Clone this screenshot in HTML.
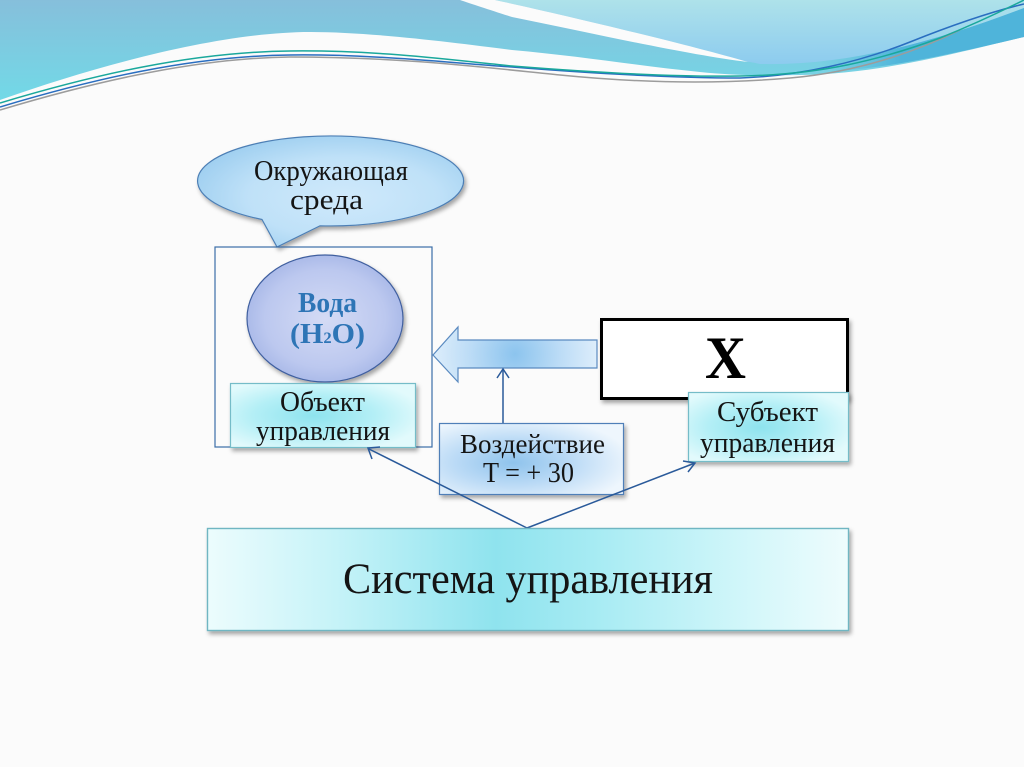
<!DOCTYPE html>
<html>
<head>
<meta charset="utf-8">
<style>
html,body{margin:0;padding:0;background:#fbfbfb;}
svg{display:block;}
text{font-family:"Liberation Serif","Noto Serif CJK SC",serif;fill:#141414;}
</style>
</head>
<body>
<svg width="1024" height="767" viewBox="0 0 1024 767" xmlns="http://www.w3.org/2000/svg">
<defs>
  <linearGradient id="gMain" x1="0" y1="0" x2="0" y2="100" gradientUnits="userSpaceOnUse">
    <stop offset="0" stop-color="#86bfdb"/>
    <stop offset="1" stop-color="#72d9e7"/>
  </linearGradient>
  <linearGradient id="gLight" x1="0" y1="0" x2="0" y2="66" gradientUnits="userSpaceOnUse">
    <stop offset="0" stop-color="#aee2ea"/>
    <stop offset="1" stop-color="#8ccbef"/>
  </linearGradient>
  <linearGradient id="gDark" x1="820" y1="0" x2="1024" y2="0" gradientUnits="userSpaceOnUse">
    <stop offset="0" stop-color="#5cc0dc" stop-opacity="0"/>
    <stop offset="0.4" stop-color="#4fb4da"/>
    <stop offset="1" stop-color="#4fb4da"/>
  </linearGradient>
  <radialGradient id="gBubble" cx="0.55" cy="0.55" r="0.6">
    <stop offset="0" stop-color="#cfe9fb"/>
    <stop offset="0.6" stop-color="#bfe1f8"/>
    <stop offset="1" stop-color="#9fcff0"/>
  </radialGradient>
  <radialGradient id="gWater" cx="0.5" cy="0.5" r="0.55">
    <stop offset="0" stop-color="#d4dbf5"/>
    <stop offset="0.7" stop-color="#bcc8ef"/>
    <stop offset="1" stop-color="#a4b5e6"/>
  </radialGradient>
  <radialGradient id="gCyan" cx="0.45" cy="0.5" r="0.6">
    <stop offset="0" stop-color="#8ee3ee"/>
    <stop offset="0.55" stop-color="#b4eff6"/>
    <stop offset="1" stop-color="#e2fafc"/>
  </radialGradient>
  <linearGradient id="gCyanWide" x1="0" y1="0" x2="1" y2="0">
    <stop offset="0" stop-color="#ecfcfd"/>
    <stop offset="0.2" stop-color="#c6f3f8"/>
    <stop offset="0.45" stop-color="#8fe3ee"/>
    <stop offset="0.6" stop-color="#a6ebf3"/>
    <stop offset="0.85" stop-color="#d4f7fa"/>
    <stop offset="1" stop-color="#eefcfd"/>
  </linearGradient>
  <radialGradient id="gBlue" cx="0.4" cy="0.55" r="0.65">
    <stop offset="0" stop-color="#8fc3ec"/>
    <stop offset="0.5" stop-color="#bcdbf6"/>
    <stop offset="1" stop-color="#eef6fd"/>
  </radialGradient>
  <radialGradient id="gArrow" cx="515" cy="354" r="90" gradientUnits="userSpaceOnUse">
    <stop offset="0" stop-color="#8cc4ee"/>
    <stop offset="0.5" stop-color="#bcdcf6"/>
    <stop offset="1" stop-color="#e4f1fc"/>
  </radialGradient>
  <filter id="sh" x="-10%" y="-10%" width="130%" height="140%">
    <feDropShadow dx="2" dy="3" stdDeviation="2" flood-color="#000" flood-opacity="0.35"/>
  </filter>
</defs>

<rect x="0" y="0" width="1024" height="767" fill="#fbfbfb"/>

<!-- header waves -->
<path d="M0,0 H1024 V37 C960,52 880,74 800,75 C760,76 730,75 700,72 C640,66 580,56 512,50 C450,42 340,28 283,33 C200,38 90,68 0,100 Z" fill="url(#gMain)"/>
<path d="M495,0 H1024 V8 C940,40 850,66 760,64 C755,63 751,62 748,62 C690,45 560,14 495,0 Z" fill="url(#gLight)"/>
<path d="M760,64 C850,66 940,40 1024,8 V37 C960,52 900,66 840,71 C810,70 785,68 760,64 Z" fill="url(#gDark)"/>
<path d="M460,0 L495,0 C560,14 690,45 748,62 C690,55 600,35 512,17 C490,10 472,4 460,0 Z" fill="#fbfbfb"/>
<path d="M0,110 C100,80 200,58 290,57 C400,57 480,67 560,75 C640,83 720,84 790,78 C860,72 920,50 960,30" fill="none" stroke="#9c9c9c" stroke-width="1.5"/>
<path d="M0,107 C90,80 190,56 290,55 C370,54 440,62 512,67 C600,74 680,78 740,78 C800,76 860,62 910,42 C950,26 990,12 1024,4" fill="none" stroke="#2a6ec0" stroke-width="1.5"/>
<path d="M0,103 C90,76 190,52 290,51 C380,50 450,60 512,66 C600,73 680,77 740,76 C820,75 880,60 940,38 C970,26 1000,12 1024,0" fill="none" stroke="#1aa89c" stroke-width="1.5"/>

<!-- speech bubble -->
<path d="M262,219.5 L277,247 L320,225.8 A133,45 0 1 0 262,219.5 Z" fill="url(#gBubble)" stroke="#4d7fb5" stroke-width="1.2" filter="url(#sh)"/>
<text x="254" y="180" font-size="28" textLength="154" lengthAdjust="spacingAndGlyphs">Окружающая</text>
<text x="290" y="209" font-size="28" textLength="73" lengthAdjust="spacingAndGlyphs">среда</text>

<!-- container -->
<rect x="215" y="247" width="217" height="200" fill="none" stroke="#3b6ea8" stroke-width="1.2"/>

<!-- water ellipse -->
<ellipse cx="325" cy="318.5" rx="78" ry="63.5" fill="url(#gWater)" stroke="#3f5f9f" stroke-width="1.2" filter="url(#sh)"/>
<text x="298" y="312" font-size="28" font-weight="bold" style="fill:#2e75b6" textLength="59" lengthAdjust="spacingAndGlyphs">Вода</text>
<text x="290" y="343" font-size="29" font-weight="bold" style="fill:#2e75b6" textLength="75" lengthAdjust="spacingAndGlyphs">(H<tspan font-size="16">2</tspan>O)</text>

<!-- Объект управления -->
<rect x="230.5" y="383.5" width="185" height="64" fill="url(#gCyan)" stroke="#74bcc8" stroke-width="1.2" filter="url(#sh)"/>
<text x="280" y="411" font-size="28" textLength="85" lengthAdjust="spacingAndGlyphs">Объект</text>
<text x="256" y="440" font-size="28" textLength="134" lengthAdjust="spacingAndGlyphs">управления</text>

<!-- big arrow -->
<polygon points="433,355 458,327 458,340 597,340 597,368 458,368 458,382" fill="url(#gArrow)" stroke="#5a8ac0" stroke-width="1.2"/>

<!-- X box -->
<rect x="601.5" y="319.5" width="246" height="79" fill="#ffffff" stroke="#000" stroke-width="3" filter="url(#sh)"/>
<text x="705" y="378" font-size="60" font-weight="bold" style="fill:#000" textLength="41" lengthAdjust="spacingAndGlyphs">X</text>

<!-- small vertical arrow -->
<line x1="503" y1="423" x2="503" y2="369" stroke="#2a5a9a" stroke-width="1.5"/>
<polyline points="497,378 503,369 509,378" fill="none" stroke="#2a5a9a" stroke-width="1.5"/>

<!-- Воздействие -->
<rect x="439.5" y="423.5" width="184" height="71" fill="url(#gBlue)" stroke="#4f7fb8" stroke-width="1.2" filter="url(#sh)"/>
<text x="460" y="453" font-size="27" textLength="145" lengthAdjust="spacingAndGlyphs">Воздействие</text>
<text x="483" y="482" font-size="29" textLength="91" lengthAdjust="spacingAndGlyphs">T = + 30</text>

<!-- Субъект управления -->
<rect x="688.5" y="392.5" width="160" height="69" fill="url(#gCyan)" stroke="#74bcc8" stroke-width="1.2" filter="url(#sh)"/>
<text x="717" y="421" font-size="28" textLength="101" lengthAdjust="spacingAndGlyphs">Субъект</text>
<text x="700" y="452" font-size="28" textLength="135" lengthAdjust="spacingAndGlyphs">управления</text>

<!-- connectors -->
<line x1="527" y1="528" x2="369" y2="449" stroke="#2a5a9a" stroke-width="1.5"/>
<polyline points="372,459 368,448 380,447" fill="none" stroke="#2a5a9a" stroke-width="1.5"/>
<line x1="527" y1="528" x2="695" y2="463" stroke="#2a5a9a" stroke-width="1.5"/>
<polyline points="683,461 695,463 688,472" fill="none" stroke="#2a5a9a" stroke-width="1.5"/>

<!-- Система управления -->
<rect x="207.5" y="528.5" width="641" height="102" fill="url(#gCyanWide)" stroke="#6fb6c2" stroke-width="1.4" filter="url(#sh)"/>
<text x="343" y="593" font-size="43" textLength="370" lengthAdjust="spacingAndGlyphs">Система управления</text>
</svg>
</body>
</html>
